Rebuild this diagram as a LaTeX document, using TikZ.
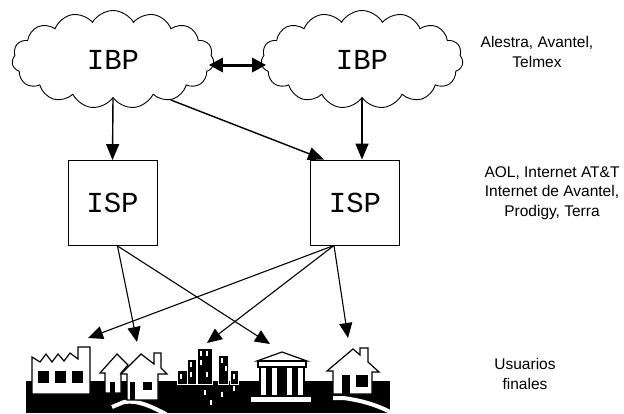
\documentclass[tikz,border=0pt]{standalone}
\usepackage{fontspec}
\setmainfont{Liberation Sans}
\newfontfamily\boxfont{Liberation Mono}
\usetikzlibrary{shapes.symbols}
\usetikzlibrary{arrows.meta}

\tikzset{
  net/.style={cloud, cloud puffs=15, cloud puff arc=120, cloud ignores aspect, draw,
    line width=0.9pt, minimum width=202pt, minimum height=98pt, inner sep=0pt,
    font=\boxfont\fontsize{29}{32}\selectfont},
  isp/.style={draw, line width=0.9pt, minimum width=89pt, minimum height=85pt,
    inner sep=0pt, font=\boxfont\fontsize{29}{32}\selectfont},
  link/.style={line width=1.4pt, -{Triangle[length=16pt,width=13pt]}},
  feed/.style={line width=1.1pt, -{Triangle[length=15pt,width=13pt]}},
  tag/.style={align=center, inner sep=0pt, font=\fontsize{15.5}{19.5}\selectfont},
}

\begin{document}
\begin{tikzpicture}[x=1pt,y=-1pt]
\useasboundingbox (0,0) rectangle (624,413);

% Clouds
\node[net] (ibpA) at (113,59.5) {IBP};
\node[net] (ibpB) at (362,59.5) {IBP};

% Boxes
\node[isp] (ispA) at (112.5,203) {ISP};
\node[isp] (ispB) at (355,202.5) {ISP};

% Labels
\node[tag] (lblIBP) at (537,52) {Alestra, Avantel,\\Telmex};
\node[tag] (lblISP) at (552,193) {AOL, Internet AT\&T\\Internet de Avantel,\\Prodigy, Terra};
\node[tag] (lblUser) at (525,374) {Usuarios\\finales};

% Links between clouds and boxes
\draw[line width=3pt, {Triangle[length=14pt,width=14pt]}-{Triangle[length=14pt,width=14pt]},
  shorten <=-5pt, shorten >=-5pt] (ibpA.east |- 0,65) -- (ibpB.west |- 0,65);
\draw[link] (ibpA.south) -- (ispA.north);
\draw[link] (ibpA.-35) -- ([xshift=14pt]ispB.north west);
\draw[link] (ibpB.south) -- (ibpB.south |- ispB.north);

% Feeds to the users
\coordinate (outA) at ([xshift=5pt]ispA.south);
\coordinate (outB) at ([xshift=-21pt]ispB.south);
\coordinate (tFactory) at (88,338);
\coordinate (tHouses) at (137,342);
\coordinate (tTowers) at (207,343);
\coordinate (tTemple) at (270,344);
\coordinate (tHome) at (348,338);
\draw[feed] (outA) -- (tHouses);
\draw[feed] (outA) -- (tTemple);
\draw[feed] (outB) -- (tFactory);
\draw[feed] (outB) -- (tTowers);
\draw[feed] (outB) -- (tHome);

% Ground
\fill[black] (26,381) rectangle (390,413);

% Roads
\draw[white, line width=4pt] (112,407) -- (124,402) .. controls (138,400) and (150,406) .. (166,414);
\draw[white, line width=4pt] (333,398) -- (343,398) .. controls (360,400) and (378,405) .. (394,414);

% Factory
\draw[fill=white, line width=1.2pt] (32,394) -- (32,357) -- (40,362) -- (46,354) -- (52,362)
  -- (58,354) -- (64,361) -- (70,353) -- (78,359) -- (78,347) -- (90,347) -- (90,394) -- cycle;
\foreach \x in {38,55,72} \fill (\x,371) rectangle ++(11,12);

% Houses
\draw[fill=white, line width=1.2pt] (100,373) -- (117,354) -- (128,365) -- (121,373)
  -- (121,393) -- (105,393) -- (105,373) -- cycle;
\fill (110,382) rectangle (115,393);
\draw[fill=white, line width=1.2pt] (121,374) -- (141,354) -- (154,364) -- (154,353) -- (161,353)
  -- (161,368) -- (167,374) -- (158,374) -- (158,400) -- (127,400) -- (127,374) -- cycle;
\fill (130,382) rectangle (135,400);
\fill (143,382) rectangle (152,390);

% Towers
\foreach \l/\t/\r in {177/370/187, 187/359/196, 197/348/212, 218/355/228, 230/370/238}
  \draw[white, fill=black, line width=0.6pt] (\l,\t) rectangle (\r,384);
\foreach \x/\y in {200/351, 206/351, 200/360, 206/372, 190/362, 190/372, 221/358, 225/366,
  180/374, 233/374, 204/390, 221/392, 233/386, 210/400}
  \fill[white] (\x,\y) rectangle ++(2,5);

% Temple
\draw[fill=white, line width=1.2pt] (257,361) -- (282,352) -- (307,361) -- cycle;
\draw[fill=white, line width=1.2pt] (258,361) rectangle (306,367);
\fill (259,367) rectangle (305,396);
\foreach \x in {261,272,287,298} \fill[white] (\x,368) rectangle ++(5,27);
\draw[fill=white, line width=1.2pt] (250,396) rectangle (312,403);

% Home
\draw[fill=white, line width=1.2pt] (327,371) -- (353,349) -- (360,355) -- (360,348) -- (368,348)
  -- (368,362) -- (379,372) -- (372,372) -- (372,394) -- (333,394) -- (333,371) -- cycle;
\fill (342,375) rectangle (350,394);
\fill (356,375) rectangle (368,387);

\end{tikzpicture}
\end{document}
